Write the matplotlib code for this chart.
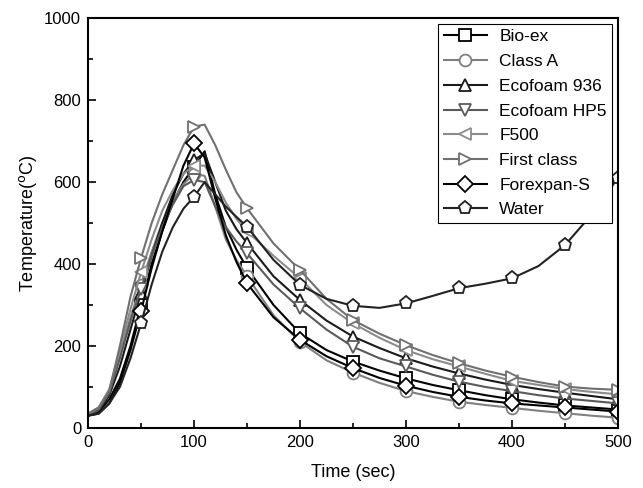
import matplotlib
matplotlib.use('Agg')
import matplotlib.pyplot as plt
from matplotlib.ticker import MultipleLocator

plt.rcParams['font.family'] = ['Liberation Sans', 'DejaVu Sans']

# time axis (s)
t = [0, 10, 20, 30, 40, 50, 60, 70, 80, 90, 100, 110, 120, 130, 140, 150,
     175, 200, 225, 250, 275, 300, 325, 350, 375, 400, 425, 450, 475, 500]

bio_ex = [30, 40, 70, 120, 200, 300, 400, 480, 550, 600, 637, 675, 570, 490, 435, 390,
          300, 231, 190, 162, 140, 121, 105, 92, 80, 70, 62, 55, 50, 45]
class_a = [30, 45, 90, 180, 270, 350, 430, 500, 555, 595, 620, 615, 540, 460, 410, 370,
           275, 210, 165, 135, 110, 90, 76, 64, 56, 49, 42, 36, 30, 25]
ecofoam_936 = [30, 40, 80, 150, 240, 330, 420, 500, 570, 620, 654, 670, 600, 530, 485, 451,
               370, 312, 262, 223, 195, 170, 150, 133, 118, 105, 95, 86, 78, 70]
ecofoam_hp5 = [30, 45, 85, 170, 260, 340, 420, 490, 545, 590, 605, 600, 540, 490, 455, 426,
               350, 292, 240, 198, 170, 150, 130, 113, 100, 90, 80, 72, 66, 60]
f500 = [35, 50, 95, 190, 290, 380, 460, 530, 580, 620, 640, 640, 600, 550, 510, 480,
        420, 365, 300, 255, 220, 190, 168, 150, 132, 115, 105, 95, 88, 82]
first_class = [35, 50, 90, 200, 320, 415, 500, 570, 630, 690, 735, 740, 690, 630, 575, 536,
               450, 385, 315, 263, 230, 202, 178, 158, 140, 125, 112, 101, 96, 93]
forexpan_s = [30, 35, 60, 110, 190, 285, 390, 480, 560, 640, 694, 660, 560, 470, 405, 353,
              270, 215, 175, 146, 122, 103, 88, 76, 67, 60, 55, 50, 45, 40]
water = [30, 35, 60, 100, 170, 255, 350, 430, 490, 535, 564, 600, 570, 540, 515, 491,
         410, 349, 315, 298, 293, 304, 322, 341, 352, 365, 395, 446, 520, 610]

names = ['Bio-ex', 'Class A', 'Ecofoam 936', 'Ecofoam HP5', 'F500',
         'First class', 'Forexpan-S', 'Water']
series = [bio_ex, class_a, ecofoam_936, ecofoam_hp5, f500, first_class, forexpan_s, water]
markers = ['s', 'o', '^', 'v', '<', '>', 'D', 'p']
colors = ['#000000', '#808080', '#1a1a1a', '#5a5a5a', '#8c8c8c', '#707070', '#000000', '#222222']
sizes = [8, 8.5, 9, 9, 9, 9, 8, 9.5]

mark_idx = [t.index(m) for m in range(50, 501, 50)]

fig = plt.figure(figsize=(6.43, 4.88), dpi=100)
ax = fig.add_axes([0.137, 0.123, 0.824, 0.840])

for name, y, m, c, s in zip(names, series, markers, colors, sizes):
    ax.plot(t, y, color=c, lw=1.5, marker=m, markersize=s, markerfacecolor='white',
            markeredgecolor=c, markeredgewidth=1.3, markevery=mark_idx, label=name)

ax.set_xlim(0, 500)
ax.set_ylim(0, 1000)
ax.xaxis.set_major_locator(MultipleLocator(100))
ax.xaxis.set_minor_locator(MultipleLocator(50))
ax.yaxis.set_major_locator(MultipleLocator(200))
ax.yaxis.set_minor_locator(MultipleLocator(100))
ax.tick_params(which='both', direction='in', labelsize=12, width=1.2, pad=5)
ax.tick_params(which='major', length=6)
ax.tick_params(which='minor', length=3.5)
for sp in ax.spines.values():
    sp.set_linewidth(1.5)

ax.set_xlabel('Time (sec)', fontsize=13, labelpad=10)
ax.set_ylabel('Temperature($^\\mathrm{o}$C)', fontsize=13, labelpad=4)

leg = ax.legend(loc='upper right', fontsize=12.5, frameon=True, fancybox=False,
                edgecolor='black', framealpha=1, handlelength=2.5, handletextpad=0.7,
                labelspacing=0.55, borderpad=0.3, borderaxespad=0.35)
leg.get_frame().set_linewidth(0.8)

plt.savefig('out.png', dpi=100)
